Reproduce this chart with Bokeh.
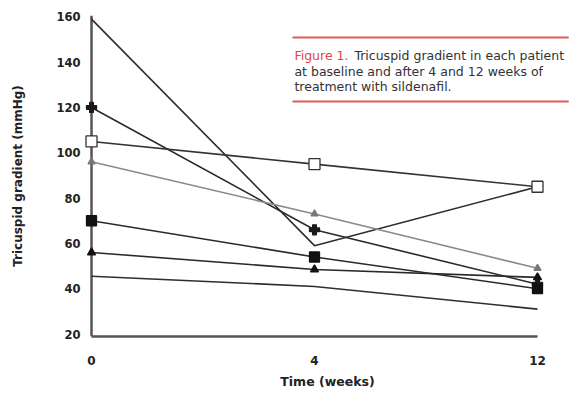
from bokeh.plotting import figure
from bokeh.models import Range1d, FixedTicker, Label, BoxAnnotation, Span
from bokeh.embed import file_html
from bokeh.resources import INLINE

# ---------------- data ----------------
weeks = ["0", "4", "12"]
y_ticks = [20, 40, 60, 80, 100, 120, 140, 160]

patient_1 = [159, 59, 85]
patient_2 = [120, 66, 42]
patient_3 = [105, 95, 85]
patient_4 = [96, 73, 49]
patient_5 = [70, 54, 40]
patient_6 = [56, 48.5, 45]
patient_7 = [45.5, 41, 31]

x_title = "Time (weeks)"
y_title = "Tricuspid gradient (mmHg)"
caption_tag = "Figure 1."
caption_lines = ["Tricuspid gradient in each patient",
                 "at baseline and after 4 and 12 weeks of",
                 "treatment with sildenafil."]

# ---------------- styles ----------------
styles = [
    (patient_1, "#2e2e2e", None, 0, None, None),
    (patient_2, "#2a2a2a", "plus", 10, "#1a1a1a", "#1a1a1a"),
    (patient_3, "#333333", "square", 11, "white", "#333333"),
    (patient_4, "#8a8a8a", "triangle", 7, "#777777", "#777777"),
    (patient_5, "#2a2a2a", "square", 10, "#111111", "#111111"),
    (patient_6, "#2a2a2a", "triangle", 8, "#111111", "#111111"),
    (patient_7, "#2e2e2e", None, 0, None, None),
]

xs = list(range(len(weeks)))

FONT = "DejaVu Sans"

p = figure(width=577, height=394, output_backend="svg", toolbar_location=None,
           x_range=Range1d(-0.0404, 2.157), y_range=Range1d(18.9, 160.6),
           min_border_left=82, min_border_right=5, min_border_top=15,
           min_border_bottom=58)
p.outline_line_color = None
p.xgrid.visible = False
p.ygrid.visible = False
p.background_fill_color = "white"

# y axis line at week 0
yline = Span(location=xs[0], dimension="height", line_color="#555555",
             line_width=2.5, level="underlay")
p.add_layout(yline)

for ys, lc, mk, sz, fc, mlc in styles:
    p.line(xs, ys, line_color=lc, line_width=1.6)
for ys, lc, mk, sz, fc, mlc in styles:
    if mk is not None:
        p.scatter(xs, ys, marker=mk, size=sz, fill_color=fc, line_color=mlc,
                  line_width=1.3)

# axes
p.xaxis.ticker = FixedTicker(ticks=xs)
p.xaxis.major_label_overrides = {i: w for i, w in enumerate(weeks)}
p.xaxis.bounds = (xs[0], xs[-1])
p.yaxis.ticker = FixedTicker(ticks=y_ticks)
for ax in (p.xaxis, p.yaxis):
    ax.axis_line_color = "#555555"
    ax.axis_line_width = 2.5
    ax.major_tick_line_color = None
    ax.minor_tick_line_color = None
    ax.major_tick_out = 0
    ax.major_tick_in = 0
    ax.major_label_text_font = FONT
    ax.major_label_text_font_style = "bold"
    ax.major_label_text_color = "#222222"
    ax.axis_label_text_font = FONT
    ax.axis_label_text_font_style = "bold"
    ax.axis_label_text_color = "#222222"
p.yaxis.axis_line_color = None
p.xaxis.major_label_text_font_size = "12px"
p.yaxis.major_label_text_font_size = "11.5px"
p.xaxis.major_label_standoff = 19
p.yaxis.major_label_standoff = 2
p.xaxis.axis_label = x_title
p.yaxis.axis_label = y_title
p.xaxis.axis_label_text_font_size = "12.5px"
p.yaxis.axis_label_text_font_size = "12px"
p.xaxis.axis_label_standoff = 6
p.yaxis.axis_label_standoff = 28

# caption box
RED = "#e04646"
for yc in (150.9, 122.6):
    p.add_layout(BoxAnnotation(left=0.901, right=2.14, bottom=yc - 0.45,
                               top=yc + 0.45, fill_color=RED, fill_alpha=0.9,
                               line_alpha=0))
p.add_layout(Label(x=0.910, y=143.0, text=caption_tag, text_baseline="middle",
                   text_font=FONT, text_font_size="12.5px", text_color=RED))
line_pos = [(1.179, 143.0), (0.910, 136.1), (0.910, 129.3)]
for (lx, ly), t in zip(line_pos, caption_lines):
    p.add_layout(Label(x=lx, y=ly, text=t, text_baseline="middle",
                       text_font=FONT, text_font_size="12.5px",
                       text_color="#333333"))

open("out.html", "w").write(file_html(p, INLINE))
